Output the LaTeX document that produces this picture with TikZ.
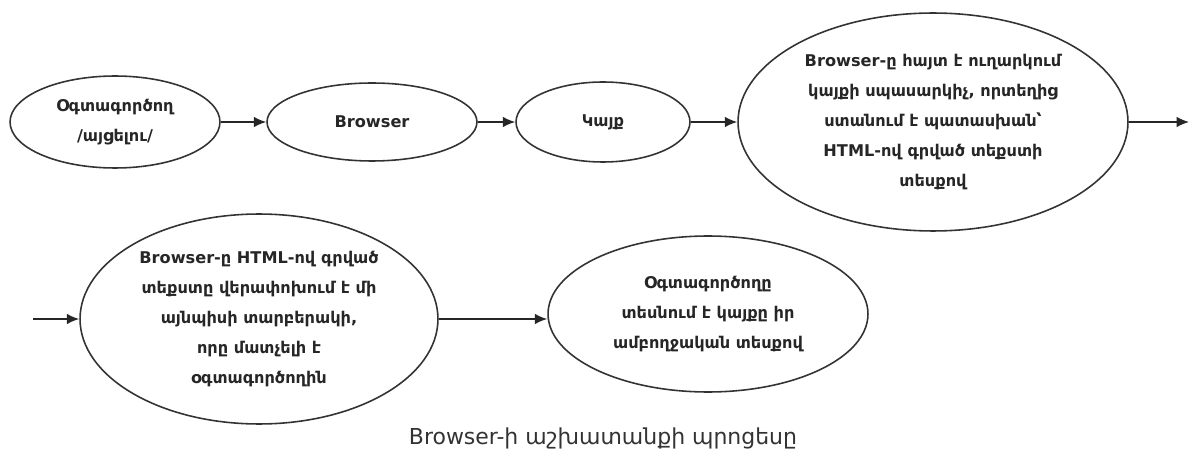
\documentclass[tikz,border=0pt]{standalone}
\usepackage{fontspec}
\setmainfont{DejaVu Sans}
\usetikzlibrary{shapes.geometric,arrows.meta}
\tikzset{
  stage/.style={ellipse, draw=black!80, line width=0.9pt, inner sep=0pt, align=center,
    font=\bfseries\fontsize{9.2}{17}\selectfont, text=black!85},
  flow/.style={draw=black!85, line width=0.9pt, -{Latex[length=7pt,width=6pt]}},
}
\begin{document}
\begin{tikzpicture}[x=0.02cm,y=-0.02cm]
\fill[white] (0,0) rectangle (1192,462);
\useasboundingbox (0,0) rectangle (1192,462);
\node[stage, minimum width=4.2cm, minimum height=1.84cm] (e1) at (115,122) {Օգտագործող\\/այցելու/};
\node[stage, minimum width=4.2cm, minimum height=1.56cm] (e2) at (372,122) {Browser};
\node[stage, minimum width=3.48cm, minimum height=1.6cm] (e3) at (603,122) {Կայք};
\node[stage, minimum width=7.8cm, minimum height=4.36cm] (e4) at (933,122) {Browser-ը հայտ է ուղարկում\\կայքի սպասարկիչ, որտեղից\\ստանում է պատասխան՝\\HTML-ով գրված տեքստի\\տեսքով};
\node[stage, minimum width=7.16cm, minimum height=4.2cm] (e5) at (259,319) {Browser-ը HTML-ով գրված\\տեքստը վերափոխում է մի\\այնպիսի տարբերակի,\\որը մատչելի է\\օգտագործողին};
\node[stage, minimum width=6.4cm, minimum height=3.12cm] (e6) at (708,314) {Օգտագործողը\\տեսնում է կայքը իր\\ամբողջական տեսքով};
\coordinate (out1) at (1189,122);
\coordinate (in1) at (33,319);
\draw[flow] (e1.east) -- (e2.west);
\draw[flow] (e2.east) -- (e3.west);
\draw[flow] (e3.east) -- (e4.west);
\draw[flow] (e4.east) -- (out1);
\draw[flow] (in1) -- (e5.west);
\draw[flow] (e5.east) -- (e5.east -| e6.west);
\node[font=\fontsize{12.5}{15}\selectfont, text=black!80] (cap) at (603,438) {Browser-ի աշխատանքի պրոցեսը};
\end{tikzpicture}
\end{document}
